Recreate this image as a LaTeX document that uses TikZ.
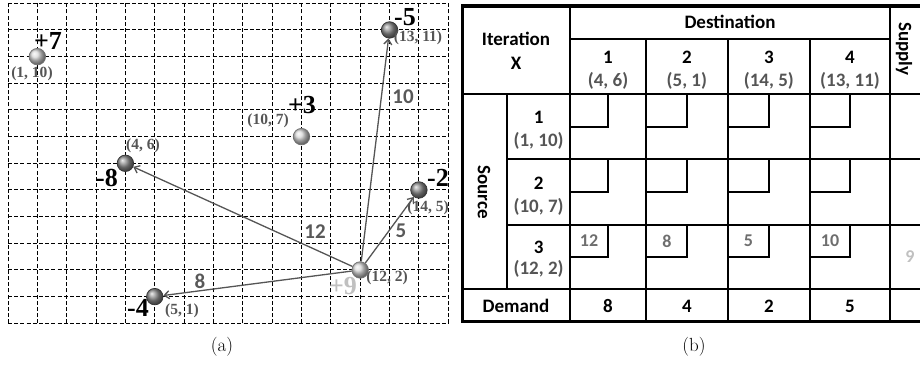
\documentclass[tikz,border=0pt]{standalone}
\usepackage{fontspec}
\newfontfamily\timesfont{Liberation Serif}
\newfontfamily\calfont{Carlito}
\usetikzlibrary{arrows.meta}
\definecolor{lab}{HTML}{555555}
\definecolor{edgec}{HTML}{595959}
\definecolor{arrc}{HTML}{555555}
\definecolor{pale}{HTML}{C0C0C0}
\definecolor{cellnum}{HTML}{6E6E6E}
\begin{document}
\begin{tikzpicture}[x=1pt,y=-1pt,
  gridline/.style={black, line width=1pt, dash pattern=on 4pt off 2.2pt},
  supplynode/.style={circle, minimum size=16.5pt, inner sep=0pt, ball color=black!15, draw=black!55, line width=0.7pt},
  demandnode/.style={circle, minimum size=16.5pt, inner sep=0pt, ball color=black!45, draw=black!80, line width=0.7pt},
  qty/.style={font=\timesfont\bfseries\fontsize{26}{28}\selectfont, inner sep=0pt},
  coordlab/.style={font=\timesfont\bfseries\fontsize{15.5}{17}\selectfont, text=lab, inner sep=0pt},
  flowlab/.style={font=\calfont\bfseries\fontsize{21}{24}\selectfont, text=edgec, inner sep=0pt},
  flow/.style={draw=arrc, line width=1.3pt, -{Straight Barb[length=5pt,width=8pt]}},
  captxt/.style={font=\fontsize{19}{22}\selectfont, inner sep=0pt},
  tabline/.style={line width=2pt},
  tabouter/.style={line width=3.5pt},
  tabtext/.style={font=\calfont\bfseries\fontsize{19}{22}\selectfont, inner sep=0pt},
  tabcoord/.style={tabtext, text=lab},
  cellval/.style={font=\calfont\bfseries\fontsize{18}{20}\selectfont, text=cellnum, inner sep=0pt},
]
\useasboundingbox (0,0) rectangle (920,364);

% ---------- (a) grid ----------
\begin{scope}[shift={(8,323.3)}, x=29.35pt, y=26.667pt]
  \foreach \i in {0,...,15} \draw[gridline] (\i,0) -- (\i,12);
  \foreach \j in {0,...,12} \draw[gridline] (0,\j) -- (15,\j);
  \node[supplynode] (s1) at (1,10) {};
  \node[supplynode] (s2) at (10,7) {};
  \node[supplynode] (s3) at (12,2) {};
  \node[demandnode] (d1) at (4,6) {};
  \node[demandnode] (d2) at (5,1) {};
  \node[demandnode] (d3) at (14,5) {};
  \node[demandnode] (d4) at (13,11) {};
\end{scope}

\draw[flow] (s3) -- (d1);
\draw[flow] (s3) -- (d2);
\draw[flow] (s3) -- (d3);
\draw[flow] (s3) -- (d4);

\node[qty] (q1) at (48,41) {+7};
\node[coordlab] (c1) at (32,74) {(1, 10)};
\node[coordlab] (c4) at (143,146) {(4, 6)};
\node[qty] (q4) at (107,178) {-8};
\node[coordlab] (c10) at (268,121) {(10, 7)};
\node[qty] (q10) at (302,105) {+3};
\node[qty] (q13) at (405,17) {-5};
\node[coordlab] (c13) at (418,38) {(13, 11)};
\node[flowlab] (f10) at (403,97) {10};
\node[qty] (q14) at (438,178) {-2};
\node[coordlab] (c14) at (428,208) {(14, 5)};
\node[flowlab] (f5) at (401,231) {5};
\node[flowlab] (f12) at (315,232) {12};
\node[flowlab] (f8) at (200,281) {8};
\node[qty, text=pale] (q12) at (343,286) {+9};
\node[coordlab] (c12) at (387,278) {(12, 2)};
\node[qty] (q5) at (138,308) {-4};
\node[coordlab] (c5) at (182,311) {(5, 1)};

\node[captxt] (capa) at (222,347) {(a)};
\node[captxt] (capb) at (694,347) {(b)};

% ---------- (b) table ----------
\draw[tabline] (570,6) -- (570,321.7);
\draw[tabline] (890,6) -- (890,321.7);
\foreach \xx in {646,727.7,810} \draw[tabline] (\xx,39) -- (\xx,321.7);
\draw[tabline] (507.3,94.3) -- (507.3,289.3);
\draw[tabline] (570,39) -- (890,39);
\draw[tabline] (462,94.3) -- (920,94.3);
\draw[tabline] (507.3,159.3) -- (920,159.3);
\draw[tabline] (507.3,225) -- (920,225);
\draw[tabline] (462,289.3) -- (920,289.3);
\foreach \xa/\xb in {570/646, 646/727.7, 727.7/810, 810/890}
  \foreach \ya/\yb in {94.3/159.3, 159.3/225, 225/289.3}
    \draw[tabline] ({(\xa+\xb)/2},\ya) |- (\xa,{(\ya+\yb)/2});
\draw[tabouter] (920,6) -- (462.3,6) -- (462.3,321.7) -- (920,321.7);

\node[tabtext] (it) at (516,39) {Iteration};
\node[tabtext] (itx) at (516,63) {X};
\node[tabtext] (dest) at (730,22) {Destination};
\node[tabtext, rotate=-90] (sup) at (904,49) {Supply};
\node[tabtext, rotate=-90] (src) at (484,192) {Source};

\node[tabtext] (h1) at (608,57) {1};
\node[tabcoord] (h1c) at (608,81) {(4, 6)};
\node[tabtext] (h2) at (686.85,57) {2};
\node[tabcoord] (h2c) at (686.85,81) {(5, 1)};
\node[tabtext] (h3) at (768.85,57) {3};
\node[tabcoord] (h3c) at (768.85,81) {(14, 5)};
\node[tabtext] (h4) at (850,57) {4};
\node[tabcoord] (h4c) at (850,81) {(13, 11)};

\node[tabtext] (r1) at (538.6,117) {1};
\node[tabcoord] (r1c) at (538.6,141) {(1, 10)};
\node[tabtext] (r2) at (538.6,183) {2};
\node[tabcoord] (r2c) at (538.6,207) {(10, 7)};
\node[tabtext] (r3) at (538.6,247) {3};
\node[tabcoord] (r3c) at (538.6,269) {(12, 2)};

\node[cellval] (v1) at (589,241) {12};
\node[cellval] (v2) at (667,241) {8};
\node[cellval] (v3) at (748.5,241) {5};
\node[cellval] (v4) at (830,241) {10};
\node[cellval, text=pale] (sv) at (910,257) {9};

\node[tabtext] (dem) at (516,306) {Demand};
\node[tabtext] (dm1) at (608,306) {8};
\node[tabtext] (dm2) at (686.85,306) {4};
\node[tabtext] (dm3) at (768.85,306) {2};
\node[tabtext] (dm4) at (850,306) {5};
\end{tikzpicture}
\end{document}
